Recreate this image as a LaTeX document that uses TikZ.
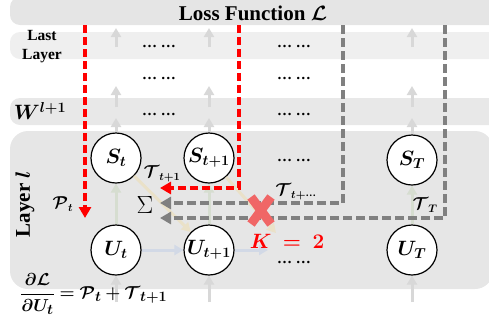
\documentclass[tikz,border=0pt]{standalone}
\usepackage{amsmath}
\usepackage{bm}
\usepackage{fontspec}
\setmainfont{Liberation Serif}
\usetikzlibrary{arrows.meta}
\definecolor{lossbg}{HTML}{E5E5E5}
\definecolor{lastbg}{HTML}{EFEFEF}
\definecolor{wbg}{HTML}{E8E8E8}
\definecolor{layerbg}{HTML}{E6E6E6}
\definecolor{fgray}{HTML}{D8D8D8}
\definecolor{fgreen}{HTML}{D6DDD0}
\definecolor{fblue}{HTML}{D2D9E6}
\definecolor{fbeige}{HTML}{EAE1C8}
\definecolor{dgray}{HTML}{808080}
\definecolor{xred}{HTML}{F06666}
\tikzset{
  state/.style={circle, draw=black, line width=1.2pt, fill=white, minimum size=50pt, inner sep=0pt, font=\fontsize{20}{24}\selectfont},
  faint/.style={line width=3pt, -{Triangle[length=9pt,width=10pt]}},
  reddash/.style={draw=red, line width=3.5pt, dash pattern=on 8pt off 4pt, line join=miter, -{Triangle[length=11pt,width=12pt]}},
  graydash/.style={draw=dgray, line width=3.5pt, dash pattern=on 9pt off 4pt, line join=miter, -{Triangle[length=11pt,width=12pt]}},
  dotsrow/.style={font=\fontsize{15}{18}\selectfont\bfseries, anchor=base, inner sep=1pt},
  lbl/.style={font=\fontsize{16}{19}\selectfont, inner sep=0pt}
}
\begin{document}
\begin{tikzpicture}[x=1pt,y=-1pt]
\useasboundingbox (0,0) rectangle (489,325);
\clip (0,0) rectangle (489,325);
% bands
\fill[lossbg, rounded corners=10pt] (10,-3) rectangle (520,25);
\fill[lastbg, rounded corners=10pt] (10,32) rectangle (520,59);
\fill[wbg, rounded corners=10pt] (10,98) rectangle (520,125);
\fill[layerbg, rounded corners=18pt] (10,131) rectangle (493,289);

% band texts
\node[font=\fontsize{21}{24}\selectfont\bfseries, inner sep=0pt] (loss) at (253,13) {Loss Function $\bm{\mathcal{L}}$};
\node[align=center, font=\fontsize{15.5}{19}\selectfont\bfseries] (last) at (42,47) {Last\\Layer};
\node[font=\fontsize{21}{24}\selectfont] (wl) at (40,111) {$\bm{W^{l+1}}$};
\node[rotate=90, font=\fontsize{21}{24}\selectfont\bfseries] (layl) at (25,204) {Layer $\bm{l}$};

% dots
\node[dotsrow] (d11) at (159,47) {… …};
\node[dotsrow] (d12) at (294,47) {… …};
\node[dotsrow] (d21) at (159,79) {… …};
\node[dotsrow] (d22) at (294,79) {… …};
\node[dotsrow] (d31) at (159,115) {… …};
\node[dotsrow] (d32) at (294,115) {… …};
\node[dotsrow] (d42) at (294,161) {… …};
\node[dotsrow] (d52) at (294,263) {… …};

% states
\node[state] (St) at (116,158) {$\bm{S_t}$};
\node[state] (St1) at (209,158) {$\bm{S_{t+1}}$};
\node[state] (ST) at (412,160) {$\bm{S_T}$};
\node[state] (Ut) at (116,250) {$\bm{U_t}$};
\node[state] (Ut1) at (209,250) {$\bm{U_{t+1}}$};
\node[state] (UT) at (412,250) {$\bm{U_T}$};

% faint vertical arrows
\foreach \x/\n in {116/a,209/b,412/c} {
  \coordinate (\n1s) at (\x,47); \coordinate (\n1e) at (\x,28);
  \coordinate (\n2s) at (\x,107); \coordinate (\n2e) at (\x,86);
  \coordinate (\n3e) at (\x,118);
  \coordinate (\n4s) at (\x,302);
  \draw[faint, fgray] (\n1s) -- (\n1e);
  \draw[faint, fgray] (\n2s) -- (\n2e);
}
\draw[faint, fgray] (St) -- (a3e);
\draw[faint, fgray] (St1) -- (b3e);
\draw[faint, fgray] (ST) -- (c3e);
\draw[faint, fgray] (a4s) -- (Ut);
\draw[faint, fgray] (b4s) -- (Ut1);
\draw[faint, fgray] (c4s) -- (UT);
\draw[faint, fgreen] (Ut) -- (St);
\draw[faint, fgreen] (Ut1) -- (St1);
\draw[faint, fgreen] (UT) -- (ST);
\coordinate (uend) at (268,250);
\coordinate (send) at (276,233);
\draw[faint, fblue] (Ut) -- (Ut1);
\draw[faint, fblue] (Ut1) -- (uend);
\draw[faint, fbeige] (St) -- (Ut1);
\draw[faint, fbeige] (St1) -- (send);

% dashed gradient paths
\coordinate (r1s) at (85,25); \coordinate (r1e) at (85,218);
\coordinate (r2s) at (239,25); \coordinate (r2e) at (160,188);
\coordinate (g1s) at (343,25); \coordinate (g1e) at (160,203);
\coordinate (g2s) at (445,25); \coordinate (g2e) at (160,218);
\draw[graydash] (g1s) |- (g1e);
\draw[graydash] (g2s) |- (g2e);
\draw[reddash] (r1s) -- (r1e);
\draw[reddash] (r2s) |- (r2e);

% cross
\coordinate (x1) at (251,197); \coordinate (x2) at (271,224);
\coordinate (x3) at (271,197); \coordinate (x4) at (251,224);
\draw[xred, line width=9pt] (x1) -- (x2);
\draw[xred, line width=9pt] (x3) -- (x4);

% labels
\node[lbl] (Pt) at (63,204) {$\bm{\mathcal{P}_t}$};
\node[lbl] (Tt1) at (162,174) {$\bm{\mathcal{T}_{t+1}}$};
\node[lbl] (Ttd) at (296,192) {$\bm{\mathcal{T}_{t+\cdots}}$};
\node[lbl] (TT) at (425,205) {$\bm{\mathcal{T}_T}$};
\node[inner sep=0pt] (sig) at (145,205) {\fontsize{28}{30}\selectfont$\Sigma$};
\node[text=red, inner sep=0pt] (K) at (287,241) {\fontsize{20}{24}\selectfont$\bm{K\;=\;2}$};

% formula
\node[anchor=west, inner sep=0pt] (eq) at (20,294) {\fontsize{19}{22}\selectfont$\bm{\dfrac{\partial\mathcal{L}}{\partial U_t} = \mathcal{P}_t + \mathcal{T}_{t+1}}$};
\end{tikzpicture}
\end{document}
